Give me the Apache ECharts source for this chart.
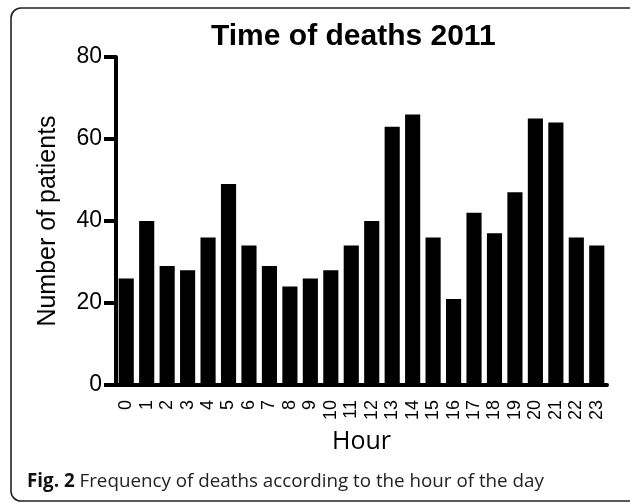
<!DOCTYPE html>
<html>
<head>
<meta charset="utf-8">
<script src="https://cdn.jsdelivr.net/npm/echarts@6/dist/echarts.min.js"></script>
<style>
  html, body { margin: 0; padding: 0; background: #fff; }
  #chart { width: 630px; height: 503px; }
</style>
</head>
<body>
<div id="chart"></div>
<script>
// hours of the day and deaths counted in each
const hours = ['0','1','2','3','4','5','6','7','8','9','10','11','12','13','14','15','16','17','18','19','20','21','22','23']
const deaths = [26, 40, 29, 28, 36, 49, 34, 29, 24, 26, 28, 34, 40, 63, 66, 36, 21, 42, 37, 47, 65, 64, 36, 34]
const yTicks = [0, 20, 40, 60, 80]

const titleText = 'Time of deaths 2011'
const captionBold = 'Fig. 2'
const captionText = ' Frequency of deaths according to the hour of the day'

const chart = echarts.init(document.getElementById('chart'), null, { renderer: 'canvas' })

const font = '"Liberation Sans", Arial, sans-serif'

chart.setOption({
    animation: false,
    backgroundColor: '#ffffff',
    grid: {
        left: 116,
        right: 23,
        top: 57,
        bottom: 118,
    },
    graphic: [
        {
            type: 'rect',
            shape: { x: 11, y: 8, width: 640, height: 493, r: 10 },
            style: { fill: 'none', stroke: '#222', lineWidth: 1.6 },
        },
        {
            type: 'text',
            left: 211,
            top: 22,
            style: {
                text: titleText,
                font: 'bold 30px ' + font,
                fill: '#000',
            },
        },
        {
            type: 'text',
            left: 27,
            top: 472,
            style: {
                text: '{b|' + captionBold + '}{n|' + captionText + '}',
                rich: {
                    b: { fontFamily: '"Open Sans", sans-serif', fontWeight: 'bold', fontSize: 18.8, fill: '#111' },
                    n: { fontFamily: '"Open Sans", sans-serif', fontSize: 18.8, fill: '#222' },
                },
            },
        },
    ],
    xAxis: {
        type: 'category',
        data: hours,
        name: 'Hour',
        nameLocation: 'middle',
        nameGap: 44,
        nameTextStyle: { fontFamily: '"Open Sans", sans-serif', fontSize: 25, color: '#000' },
        axisLine: { lineStyle: { color: '#000', width: 4 } },
        axisTick: { alignWithLabel: true, length: 11, lineStyle: { color: '#000', width: 4 } },
        axisLabel: { rotate: 90, fontFamily: font, fontSize: 18, color: '#000', margin: 15, interval: 0 },
    },
    yAxis: {
        type: 'value',
        min: yTicks[0],
        max: yTicks[yTicks.length - 1],
        interval: 20,
        name: 'Number of patients',
        nameLocation: 'middle',
        nameGap: 55,
        nameTextStyle: { fontFamily: font, fontSize: 25, color: '#000' },
        axisLine: { show: true, lineStyle: { color: '#000', width: 4 } },
        axisTick: { show: true, length: 12, lineStyle: { color: '#000', width: 4 } },
        axisLabel: { fontFamily: font, fontSize: 23, color: '#000', margin: 14 },
        splitLine: { show: false },
    },
    series: [
        {
            type: 'bar',
            data: deaths,
            barCategoryGap: '26%',
            itemStyle: { color: '#000' },
        },
    ],
})
</script>
</body>
</html>
